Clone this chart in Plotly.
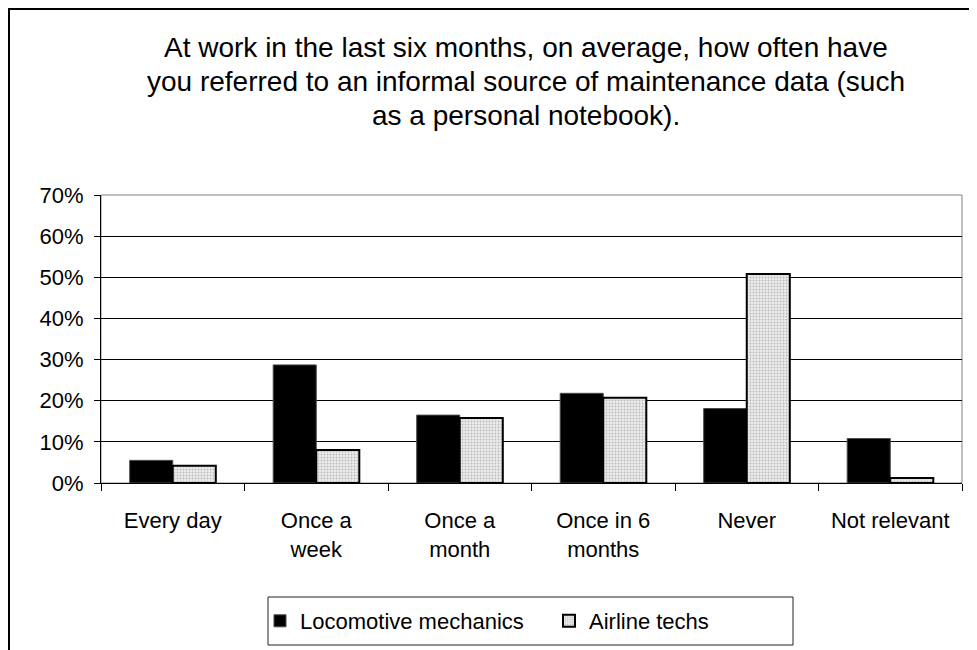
import plotly.graph_objects as go

categories = ["Every day", "Once a<br>week", "Once a<br>month", "Once in 6<br>months", "Never", "Not relevant"]
loco_values = [5.5, 28.7, 16.5, 21.8, 18.1, 10.8]
airline_values = [4.2, 8.0, 15.8, 20.7, 50.8, 1.2]
series_names = ["Locomotive mechanics", "Airline techs"]
y_ticks = [0, 10, 20, 30, 40, 50, 60, 70]
y_tick_labels = [f"{v}%" for v in y_ticks]
title_lines = [
    "At work in the last six months, on average, how often have",
    "you referred to an informal source of maintenance data (such",
    "as a personal notebook).",
]

FONT = "Liberation Sans, Arial, sans-serif"
W, H = 977, 650
OFF = 8  # page body margin
# reference screen positions converted to figure coordinates
L = 101 - OFF
T = 195 - OFF
PB = 483 - OFF
PR = 962 - OFF
R = W - PR
B = H - PB
PH = PB - T
PW = PR - L

def px_x(sx):
    return (sx - OFF - L) / PW

def px_y(sy):
    return (PB - (sy - OFF)) / PH

fig = go.Figure()
fig.add_trace(go.Bar(
    x=categories, y=loco_values, name=series_names[0],
    marker=dict(color="#000000", line=dict(color="#4a4a4a", width=1)),
))
fig.add_trace(go.Bar(
    x=categories, y=airline_values, name=series_names[1],
    marker=dict(color="#e8e8e8", line=dict(color="#000000", width=2),
                pattern=dict(shape=".", fgcolor="#8c8c8c", bgcolor="#ececec",
                             size=3, solidity=0.35)),
))

annotations = []
title_baselines = [57, 91.5, 125]
for line, base in zip(title_lines, title_baselines):
    annotations.append(dict(
        text=line, x=px_x(526), y=px_y(base - 9.7), xref="paper", yref="paper",
        xanchor="center", yanchor="middle", showarrow=False,
        font=dict(family=FONT, size=28, color="#000000"),
    ))

shapes = [
    dict(type="rect", xref="paper", yref="paper", x0=0, x1=1, y0=0, y1=1,
         line=dict(color="#808080", width=1), layer="below"),
    dict(type="rect", xref="paper", yref="paper",
         x0=px_x(OFF + 1), x1=px_x(OFF + W + 20), y0=px_y(OFF + 1), y1=px_y(OFF + H + 20),
         line=dict(color="#000000", width=2), layer="below"),
    # legend box
    dict(type="rect", xref="paper", yref="paper",
         x0=px_x(268), x1=px_x(793), y0=px_y(597), y1=px_y(645),
         line=dict(color="#222222", width=1), fillcolor="#ffffff", layer="below"),
]

fig.update_layout(
    width=W, height=H,
    margin=dict(l=L, r=R, t=T, b=B, pad=0),
    paper_bgcolor="#ffffff", plot_bgcolor="#ffffff",
    barmode="group", bargap=0.4, bargroupgap=0,
    font=dict(family=FONT, size=22, color="#000000"),
    showlegend=True,
    legend=dict(
        orientation="h", x=px_x(260), xanchor="left", y=px_y(600), yanchor="top",
        borderwidth=0, bgcolor="rgba(0,0,0,0)",
        font=dict(family=FONT, size=22, color="#000000"),
        traceorder="normal", entrywidth=244, entrywidthmode="pixels",
    ),
    annotations=annotations,
    shapes=shapes,
)
fig.update_xaxes(
    type="category", tickson="boundaries", ticks="outside", ticklen=7,
    tickcolor="#000000", showline=True, linecolor="#000000", linewidth=1,
    showgrid=False, tickfont=dict(family=FONT, size=22, color="#000000"),
    ticklabelstandoff=18,
)
fig.update_yaxes(
    range=[0, 70], tickvals=y_ticks, ticktext=y_tick_labels,
    ticks="outside", ticklen=6, tickcolor="#000000",
    showline=True, linecolor="#000000", linewidth=1,
    showgrid=True, gridcolor="#000000", gridwidth=1, zeroline=False,
    tickfont=dict(family=FONT, size=22, color="#000000"),
    ticklabelstandoff=6,
)

fig.write_html("out.html")
